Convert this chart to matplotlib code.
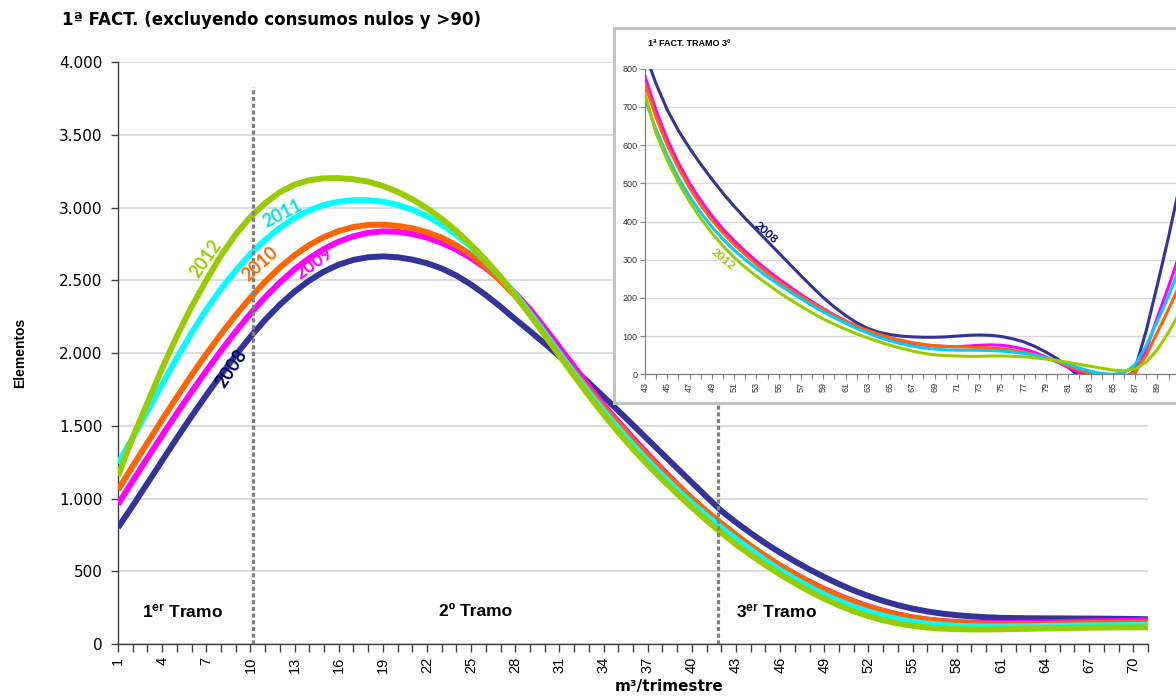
import matplotlib
matplotlib.use('Agg')
import matplotlib.pyplot as plt

plt.rcParams['mathtext.fontset'] = 'custom'
plt.rcParams['mathtext.bf'] = 'Liberation Sans:bold'
plt.rcParams['mathtext.rm'] = 'Liberation Sans'
plt.rcParams['mathtext.it'] = 'Liberation Sans:italic'

# ---------------- data ----------------
title = "1ª FACT. (excluyendo consumos nulos y >90)"
years = ["2008", "2009", "2010", "2011", "2012"]
colors = ["#333399", "#FF00FF", "#FF6600", "#00FFFF", "#99CC00"]
inset_colors = ["#333399", "#FF00FF", "#FF6600", "#00CCFF", "#99CC00"]

x_main = list(range(1, 72))
s2008 = [800, 950, 1105, 1260, 1415, 1565, 1710, 1850, 1985, 2112,
         2228, 2332, 2422, 2498, 2560, 2607, 2640, 2658, 2664, 2658,
         2642, 2617, 2581, 2532, 2470, 2398, 2318, 2232, 2150, 2065,
         1978, 1888, 1795, 1700, 1603, 1505, 1406, 1307, 1208, 1110,
         1012, 915, 836, 762, 692, 628, 568, 512, 460, 412,
         368, 330, 296, 267, 243, 224, 209, 198, 190, 184,
         180, 178, 177, 176, 176, 175, 175, 174, 173, 172, 170]
s2009 = [960, 1120, 1278, 1433, 1585, 1733, 1877, 2015, 2147, 2270,
         2383, 2485, 2575, 2652, 2715, 2765, 2802, 2826, 2836, 2833,
         2818, 2793, 2757, 2710, 2652, 2583, 2503, 2410, 2300, 2172,
         2040, 1905, 1772, 1642, 1527, 1415, 1306, 1200, 1098, 1000,
         908, 822, 742, 668, 600, 538, 480, 427, 378, 333,
         293, 258, 228, 203, 183, 168, 158, 151, 147, 145,
         145, 146, 147, 149, 151, 153, 155, 157, 159, 161, 163]
s2010 = [1060, 1222, 1383, 1542, 1697, 1848, 1993, 2130, 2260, 2380,
         2490, 2588, 2672, 2742, 2797, 2838, 2866, 2880, 2882, 2874,
         2857, 2830, 2792, 2740, 2675, 2590, 2495, 2392, 2270, 2135,
         1998, 1872, 1748, 1628, 1512, 1400, 1293, 1190, 1092, 1000,
         912, 830, 750, 675, 605, 540, 480, 425, 375, 330,
         290, 255, 226, 201, 182, 167, 156, 148, 142, 139,
         137, 137, 137, 138, 140, 142, 144, 145, 147, 148, 149]
s2011 = [1240, 1418, 1600, 1785, 1965, 2138, 2298, 2440, 2567, 2680,
         2778, 2860, 2928, 2980, 3018, 3040, 3050, 3050, 3040, 3018,
         2985, 2940, 2882, 2812, 2728, 2630, 2522, 2405, 2275, 2138,
         1998, 1860, 1728, 1602, 1482, 1368, 1260, 1157, 1060, 968,
         882, 800, 722, 648, 575, 508, 447, 391, 340, 295,
         256, 222, 194, 171, 153, 140, 131, 125, 121, 120,
         120, 121, 122, 124, 125, 127, 128, 129, 130, 131, 131]
s2012 = [1155, 1420, 1657, 1895, 2115, 2318, 2500, 2670, 2815, 2935,
         3030, 3105, 3157, 3188, 3201, 3202, 3194, 3178, 3148, 3108,
         3057, 2995, 2922, 2838, 2742, 2638, 2522, 2395, 2262, 2123,
         1982, 1843, 1708, 1578, 1455, 1340, 1232, 1130, 1033, 940,
         850, 765, 685, 612, 543, 478, 418, 362, 311, 265,
         225, 191, 163, 141, 125, 113, 106, 102, 100, 100,
         101, 103, 105, 107, 109, 111, 112, 113, 114, 114, 115]
main_series = [s2008, s2009, s2010, s2011, s2012]

x_inset = list(range(43, 92))
i2008 = [840, 760, 692, 638, 592, 550, 511, 474, 440, 408,
         378, 348, 318, 288, 258, 229, 201, 176, 154, 135,
         120, 110, 104, 100, 98, 97, 97, 98, 100, 102,
         103, 102, 99, 93, 85, 73, 58, 41, 18, -5,
         -25, -38, -40, -25, 15, 115, 235, 360, 495]
i2009 = [780, 690, 615, 553, 500, 455, 415, 380, 350, 322,
         296, 272, 250, 229, 209, 190, 172, 155, 140, 126,
         114, 103, 94, 87, 81, 77, 74, 73, 72, 74,
         76, 77, 76, 72, 66, 57, 45, 32, 18, 5,
         -5, -12, -15, -12, 2, 65, 150, 230, 315]
i2010 = [760, 672, 600, 540, 488, 443, 404, 370, 340, 313,
         288, 265, 243, 223, 204, 186, 169, 153, 139, 126,
         115, 105, 96, 89, 83, 78, 75, 73, 72, 71,
         70, 69, 67, 63, 58, 51, 43, 33, 22, 11,
         2, -5, -8, -5, 5, 50, 110, 170, 235]
i2011 = [720, 640, 572, 514, 465, 423, 386, 354, 325, 300,
         277, 255, 235, 216, 198, 180, 164, 148, 134, 120,
         108, 97, 88, 80, 74, 69, 66, 64, 63, 63,
         63, 62, 61, 58, 55, 50, 43, 35, 26, 16,
         8, 2, 0, 4, 25, 75, 140, 205, 280]
i2012 = [735, 630, 560, 502, 452, 408, 370, 336, 306, 280,
         257, 236, 215, 196, 178, 161, 145, 131, 118, 106,
         95, 85, 76, 68, 61, 55, 51, 49, 48, 47,
         47, 48, 48, 47, 46, 43, 40, 36, 31, 26,
         21, 16, 11, 9, 14, 32, 65, 110, 162]
inset_series = [i2008, i2009, i2010, i2011, i2012]

tramo_bounds = [10.2, 41.8]
y_ticks = list(range(0, 4001, 500))
x_tick_main = list(range(1, 71, 3))
inset_y_ticks = list(range(0, 801, 100))
inset_x_ticks = list(range(43, 92, 2))

# ---------------- figure ----------------
W, H = 1176, 696
fig = plt.figure(figsize=(W / 100, H / 100), dpi=100)


def fx(px):
    return px / W


def fy(py):
    return 1 - py / H


ax = fig.add_axes([fx(118), fy(644), (1148 - 118) / W, (644 - 62) / H])
ax.set_zorder(0)
for s, c in zip(main_series, colors):
    ax.plot(x_main, s, color=c, lw=4.3, solid_capstyle='butt', zorder=3)

ax.set_xlim(1, 71)
ax.set_ylim(0, 4000)
ax.set_yticks(y_ticks)
ax.set_yticklabels([f"{v:,}".replace(",", ".") for v in y_ticks],
                   fontsize=11, family='DejaVu Sans')
ax.set_xticks(x_tick_main)
ax.set_xticklabels([str(v) for v in x_tick_main], rotation=90,
                   fontsize=10.5, family='Liberation Sans')
ax.set_xticks(x_main, minor=True)
ax.tick_params(axis='x', which='both', direction='out', length=6, width=1,
               color='#404040', pad=3)
ax.tick_params(axis='y', direction='out', length=5, width=1,
               color='#404040', pad=6)
for sp in ['top', 'right']:
    ax.spines[sp].set_visible(False)
for sp in ['left', 'bottom']:
    ax.spines[sp].set_color('#404040')
    ax.spines[sp].set_linewidth(1)
ax.grid(axis='y', color='#D9D9D9', lw=1.3)
ax.set_axisbelow(True)

for xb in tramo_bounds:
    ax.plot([xb, xb], [0, 3830], color='#808080', lw=2.3,
            linestyle=(0, (1.3, 0.8)), zorder=5)

ax.text(2.6, 220, r"1$^{\mathbf{er}}$ Tramo", fontsize=12.5, fontweight='bold',
        family='Liberation Sans', ha='left', va='center')
ax.text(25.3, 220, "2º Tramo", fontsize=12.5, fontweight='bold',
        family='Liberation Sans', ha='center', va='center')
ax.text(43.0, 220, r"3$^{\mathbf{er}}$ Tramo", fontsize=12.5, fontweight='bold',
        family='Liberation Sans', ha='left', va='center')

# year labels on main curves
lab_pos = {"2008": (8.72, 1895, 56, "#000066"),
           "2009": (14.3, 2616, 36, "#FF00FF"),
           "2010": (10.66, 2612, 42, "#FF6600"),
           "2011": (12.2, 2960, 27, "#00E5E5"),
           "2012": (6.98, 2651, 55, "#99CC00")}
for yr, (xx, yy, rot, c) in lab_pos.items():
    ax.text(xx, yy, yr, color=c, fontsize=13, fontweight='bold', family='Lato',
            rotation=rot, ha='center', va='center', rotation_mode='anchor', zorder=6)

fig.text(fx(62), fy(20), title, ha='left', va='center', fontsize=12,
         fontweight='bold', family='DejaVu Sans')
fig.text(fx(20), fy(353), "Elementos", rotation=90, ha='center', va='center',
         fontsize=10, fontweight='bold', family='Liberation Sans')
fig.text(fx(669), fy(687), "m³/trimestre", ha='center', va='center',
         fontsize=11, fontweight='bold', family='DejaVu Sans')

# ---------------- inset ----------------
frame = fig.add_axes([fx(614), fy(403), (1210 - 614) / W, (403 - 28) / H])
frame.set_zorder(3)
frame.set_facecolor('white')
frame.set_xticks([])
frame.set_yticks([])
for sp in frame.spines.values():
    sp.set_color('#BFBFBF')
    sp.set_linewidth(2)

iax = fig.add_axes([fx(645), fy(374.3), (50 * 11.14) / W, (374.3 - 68.7) / H])
iax.set_zorder(4)
iax.set_facecolor('none')
for s, c in zip(inset_series, inset_colors):
    iax.plot(x_inset, s, color=c, lw=2.2, zorder=3)
iax.set_xlim(43, 93)
iax.set_ylim(0, 800)
iax.set_yticks(inset_y_ticks)
iax.set_yticklabels([str(v) for v in inset_y_ticks], fontsize=6.5,
                    family='Liberation Sans', color='#333333')
iax.set_xticks(inset_x_ticks)
iax.set_xticklabels([str(v) for v in inset_x_ticks], rotation=90, fontsize=6.5,
                    family='Liberation Sans', color='#333333')
iax.set_xticks(list(range(43, 94)), minor=True)
iax.tick_params(axis='both', which='both', direction='out', length=3.5,
                width=0.8, color='#808080', pad=2)
for sp in ['top', 'right']:
    iax.spines[sp].set_visible(False)
for sp in ['left', 'bottom']:
    iax.spines[sp].set_color('#808080')
    iax.spines[sp].set_linewidth(0.9)
iax.grid(axis='y', color='#D9D9D9', lw=1.0)
iax.set_axisbelow(True)

iax.text(53.9, 372, "2008", color='#000066', fontsize=8.5, fontweight='bold',
         family='Lato', rotation=-42, ha='center', va='center',
         rotation_mode='anchor', zorder=6)
iax.text(50.0, 302, "2012", color='#99CC00', fontsize=8.5, fontweight='bold',
         family='Lato', rotation=-40, ha='center', va='center',
         rotation_mode='anchor', zorder=6)

fig.text(fx(648), fy(44), "1ª FACT. TRAMO 3º", ha='left', va='center',
         fontsize=6.5, fontweight='bold', family='Liberation Sans', zorder=10)

fig.savefig('out.png', dpi=100)
